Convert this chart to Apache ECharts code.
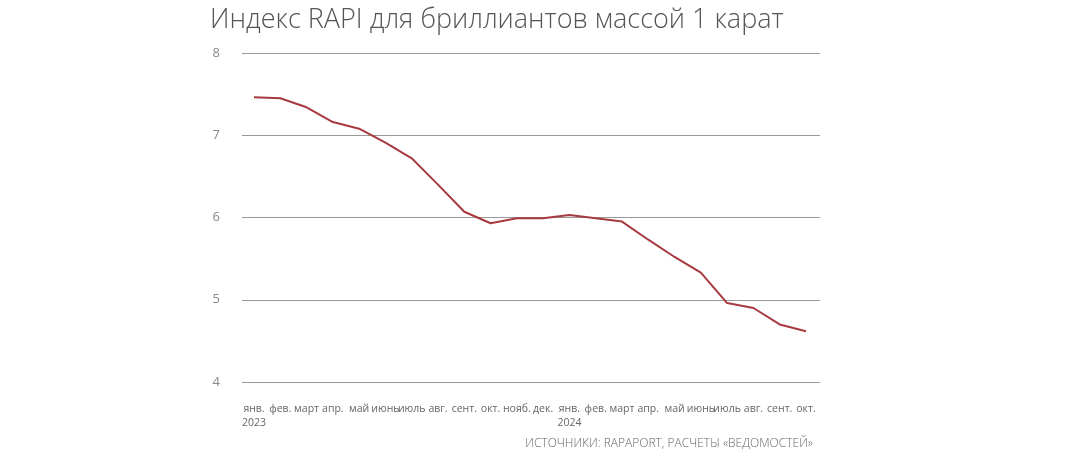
<!DOCTYPE html><html><head><meta charset="utf-8"><script src="https://cdn.jsdelivr.net/npm/echarts@6/dist/echarts.min.js"></script></head><body style="margin:0;background:#fff"><div id="c" style="width:1080px;height:462px"></div><script>
const months=["янв.","фев.","март","апр.","май","июнь","июль","авг.","сент.","окт.","нояб.","дек.","янв.","фев.","март","апр.","май","июнь","июль","авг.","сент.","окт."];
const years={0:"2023",12:"2024"};
const values=[7.462,7.45,7.34,7.16,7.08,6.91,6.72,6.40,6.07,5.93,5.99,5.99,6.03,5.99,5.95,5.73,5.52,5.33,4.96,4.90,4.70,4.618];
const yTicks=[4,5,6,7,8];
const c=echarts.init(document.getElementById('c'));
const last=values.length-1;
const cats=months.map((m,i)=>m+(years[i]?'\n'+years[i]:''));
c.setOption({
title:[{text:"Индекс RAPI для бриллиантов массой 1 карат",left:205,top:2,textStyle:{fontFamily:"Open Sans",fontWeight:300,fontSize:27,color:"#555"}},
{text:"ИСТОЧНИКИ: RAPAPORT, РАСЧЕТЫ «ВЕДОМОСТЕЙ»",right:262,top:433,textStyle:{fontFamily:"Open Sans",fontWeight:300,fontSize:12,color:"#666"}}],
grid:[{left:242,right:260,top:53,bottom:80},{left:254,right:274,top:53,bottom:80}],
xAxis:[{gridIndex:0,type:'value',min:0,max:1,show:false},
{gridIndex:1,type:'category',data:cats,boundaryGap:false,axisLine:{show:false},axisTick:{show:false},
axisLabel:{interval:0,fontFamily:"Open Sans",fontSize:10.5,color:"#666",margin:20,lineHeight:14}}],
yAxis:[{gridIndex:0,type:'value',min:4,max:8,interval:1,axisLine:{show:false},axisTick:{show:false},
axisLabel:{margin:22,fontFamily:"Open Sans",fontSize:13,color:"#888",formatter:v=>yTicks.includes(v)?String(v):''},
splitLine:{lineStyle:{color:"#999",width:1}}},
{gridIndex:1,type:'value',min:4,max:8,interval:1,show:false}],
series:[{type:'line',xAxisIndex:1,yAxisIndex:1,symbol:'none',lineStyle:{color:"#a83a3f",width:2},
data:values,
label:{show:true,fontFamily:"Open Sans",fontWeight:600,fontSize:17,color:"#222",
formatter:p=>(p.dataIndex===0||p.dataIndex===last)?String(p.value).replace('.',','):'',
position:'top',distance:22},
labelLayout:p=>p.dataIndex===last?{dy:50}:{}}]
});
</script></body></html>
